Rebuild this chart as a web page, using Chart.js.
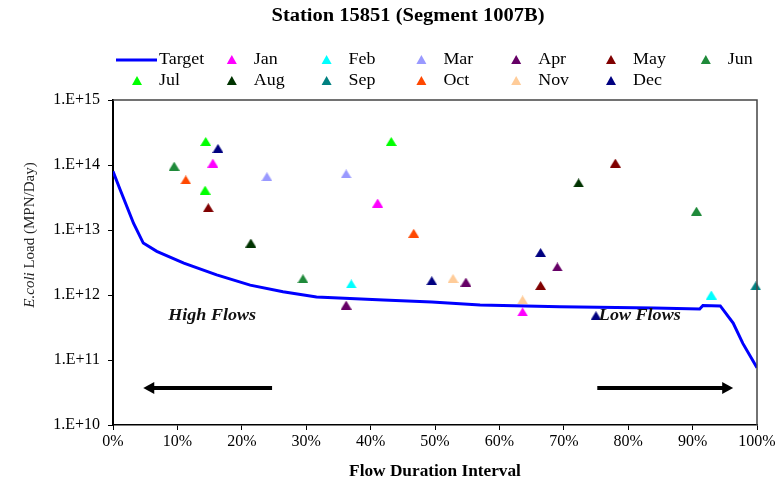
<!DOCTYPE html>
<html>
<head>
<meta charset="utf-8">
<script src="https://cdn.jsdelivr.net/npm/chart.js@4/dist/chart.umd.min.js"></script>
<style>
  html, body { margin: 0; padding: 0; background: #fff; }
  #wrap { width: 779px; height: 485px; position: relative; }
</style>
</head>
<body>
<div id="wrap"><canvas id="loadChart" width="779" height="485"></canvas></div>
<script>
// load duration curve - station 15851
const months = ['Jan', 'Feb', 'Mar', 'Apr', 'May', 'Jun', 'Jul', 'Aug', 'Sep', 'Oct', 'Nov', 'Dec'];
const monthColors = ['#ff00ff', '#00ffff', '#9999ff', '#660066', '#800000', '#1f8a3a',
                     '#00ff00', '#003300', '#008080', '#ff4800', '#ffcc99', '#000080'];

// target curve (flow duration %, load MPN/day)
const targetPct  = [0, 1.1, 3.2, 4.7, 6.8, 11, 16.1, 21.3, 26.4, 31.6, 42, 49.5, 57, 69.4, 84, 91.1, 91.6, 94.3, 96.3, 97.8, 100];
const targetLoad = [8e13, 4.2e13, 1.26e13, 6.3e12, 4.7e12, 3.1e12, 2.04e12, 1.42e12, 1.12e12, 9.3e11, 8.4e11, 7.8e11,
                    7.0e11, 6.6e11, 6.3e11, 6.1e11, 6.9e11, 6.8e11, 3.7e11, 1.8e11, 7.6e10];

// samples
const sampleMonth = ['Jan', 'Jan', 'Jan', 'Feb', 'Feb', 'Mar', 'Mar', 'Apr', 'Apr', 'Apr', 'May', 'May', 'May',
                     'Jun', 'Jun', 'Jun', 'Jul', 'Jul', 'Jul', 'Aug', 'Aug', 'Sep', 'Oct', 'Oct', 'Nov', 'Nov',
                     'Dec', 'Dec', 'Dec', 'Dec'];
const samplePct  = [15.5, 41.1, 63.6, 37.0, 92.9, 23.9, 36.2, 36.2, 54.8, 69.0, 14.8, 66.4, 78.0,
                    9.5, 29.5, 90.6, 14.4, 14.3, 43.2, 21.4, 72.3, 99.8, 11.3, 46.7, 52.8, 63.6,
                    16.3, 49.5, 66.4, 75.0];
const sampleLoad = [1.07e14, 2.6e13, 5.5e11, 1.48e12, 1.0e12, 6.6e13, 7.3e13, 7.0e11, 1.58e12, 2.7e12, 2.2e13, 1.4e12, 1.07e14,
                    9.6e13, 1.78e12, 1.95e13, 2.3e14, 4.1e13, 2.3e14, 6.3e12, 5.3e13, 1.38e12, 5.9e13, 8.9e12, 1.8e12, 8.4e11,
                    1.8e14, 1.66e12, 4.5e12, 4.8e11];

const yTicks = [1e10, 1e11, 1e12, 1e13, 1e14, 1e15];
const xTicks = [0, 10, 20, 30, 40, 50, 60, 70, 80, 90, 100];

// flow regime notes
const regimeText = ['High Flows', 'Low Flows'];
const regimePct  = [15.4, 81.8];
const regimeLoad = [4.8e11, 4.8e11];
const arrowFrom  = [24.7, 75.2];
const arrowTo    = [4.7, 96.3];
const arrowLoad  = 3.7e10;

const serif = '"Liberation Serif", "Times New Roman", serif';

// flat "hat" triangle marker, like the old excel one
function triMarker(color, w, h) {
    const c = document.createElement('canvas');
    c.width = w;
    c.height = h;
    const g = c.getContext('2d');
    g.fillStyle = color;
    g.beginPath();
    g.moveTo(w / 2, 0);
    g.lineTo(w, h);
    g.lineTo(0, h);
    g.closePath();
    g.fill();
    return c;
}

const datasets = [{
    label: 'Target',
    type: 'line',
    data: targetPct.map((p, i) => ({ x: p, y: targetLoad[i] })),
    borderColor: '#0000ff',
    backgroundColor: '#0000ff',
    borderWidth: 3,
    pointRadius: 0,
    tension: 0,
    order: 2
}];
months.forEach((m, k) => {
    const pts = [];
    sampleMonth.forEach((sm, i) => {
        if (sm === m) pts.push({ x: samplePct[i], y: sampleLoad[i] });
    });
    datasets.push({
        label: m,
        type: 'scatter',
        data: pts,
        pointStyle: triMarker(monthColors[k], 11, 9),
        pointRadius: 6,
        borderColor: monthColors[k],
        backgroundColor: monthColors[k],
        clip: false,
        order: 1
    });
});

function wideText(ctx, txt, x, y, stretch) {
    ctx.save();
    ctx.translate(x, y);
    ctx.scale(stretch, 1);
    ctx.fillText(txt, 0, 0);
    ctx.restore();
}

const decor = {
    id: 'decor',
    afterDraw(chart) {
        const ctx = chart.ctx;
        const xs = chart.scales.x, ys = chart.scales.y;
        const area = chart.chartArea;
        ctx.save();

        // top / right frame
        ctx.strokeStyle = '#444';
        ctx.lineWidth = 1.5;
        ctx.beginPath();
        ctx.moveTo(area.left, area.top);
        ctx.lineTo(area.right, area.top);
        ctx.lineTo(area.right, area.bottom);
        ctx.stroke();

        // title
        ctx.fillStyle = '#000';
        ctx.font = 'bold 18px ' + serif;
        ctx.textAlign = 'center';
        ctx.textBaseline = 'middle';
        wideText(ctx, 'Station 15851 (Segment 1007B)', 408, 16, 1.14);

        // x title
        ctx.font = 'bold 16px ' + serif;
        wideText(ctx, 'Flow Duration Interval', (area.left + area.right) / 2, 472, 1.08);

        // legend
        ctx.font = '16px ' + serif;
        ctx.textAlign = 'left';
        const names = ['Target'].concat(months);
        names.forEach((n, i) => {
            const col = i % 7, row = Math.floor(i / 7);
            const cx = 137 + col * 94.8;
            const cy = 60 + row * 21;
            if (i === 0) {
                ctx.strokeStyle = '#0000ff';
                ctx.lineWidth = 3;
                ctx.beginPath();
                ctx.moveTo(116, cy);
                ctx.lineTo(157, cy);
                ctx.stroke();
            } else {
                ctx.fillStyle = monthColors[i - 1];
                ctx.beginPath();
                ctx.moveTo(cx, cy - 5);
                ctx.lineTo(cx + 5, cy + 4);
                ctx.lineTo(cx - 5, cy + 4);
                ctx.closePath();
                ctx.fill();
            }
            ctx.fillStyle = '#000';
            wideText(ctx, n, cx + 22, cy, 1.12);
        });

        // y title with italic E.coli
        ctx.save();
        ctx.translate(30, 235);
        ctx.rotate(-Math.PI / 2);
        ctx.fillStyle = '#222';
        ctx.textBaseline = 'middle';
        ctx.font = 'italic 15px ' + serif;
        const p1 = 'E.coli';
        const w1 = ctx.measureText(p1).width;
        ctx.font = '15px ' + serif;
        const p2 = ' Load (MPN/Day)';
        const w2 = ctx.measureText(p2).width;
        const sx = -(w1 + w2) / 2;
        ctx.textAlign = 'left';
        ctx.font = 'italic 15px ' + serif;
        ctx.fillText(p1, sx, 0);
        ctx.font = '15px ' + serif;
        ctx.fillText(p2, sx + w1, 0);
        ctx.restore();

        // regime labels
        ctx.font = 'italic bold 16px ' + serif;
        ctx.fillStyle = '#111';
        ctx.textAlign = 'center';
        regimeText.forEach((t, i) => {
            wideText(ctx, t, xs.getPixelForValue(regimePct[i]), ys.getPixelForValue(regimeLoad[i]), 1.13);
        });

        // arrows
        ctx.strokeStyle = '#000';
        ctx.fillStyle = '#000';
        ctx.lineWidth = 4;
        const ay = ys.getPixelForValue(arrowLoad);
        arrowFrom.forEach((f, i) => {
            const x0 = xs.getPixelForValue(f), x1 = xs.getPixelForValue(arrowTo[i]);
            const dir = Math.sign(x1 - x0);
            ctx.beginPath();
            ctx.moveTo(x0, ay);
            ctx.lineTo(x1 - dir * 8, ay);
            ctx.stroke();
            ctx.beginPath();
            ctx.moveTo(x1, ay);
            ctx.lineTo(x1 - dir * 11, ay - 6);
            ctx.lineTo(x1 - dir * 11, ay + 6);
            ctx.closePath();
            ctx.fill();
        });
        ctx.restore();
    }
};

new Chart(document.getElementById('loadChart').getContext('2d'), {
    data: { datasets: datasets },
    options: {
        responsive: false,
        animation: false,
        layout: { padding: { top: 100, right: 22, left: 0, bottom: 0 } },
        plugins: {
            legend: { display: false },
            title: { display: false },
            tooltip: { enabled: false }
        },
        scales: {
            x: {
                type: 'linear',
                min: 0,
                max: 100,
                afterFit: s => { s.height = 60; },
                afterBuildTicks: s => { s.ticks = xTicks.map(v => ({ value: v })); },
                grid: { drawOnChartArea: false, drawTicks: true, tickLength: 5, color: '#000' },
                border: { display: true, color: '#000', width: 1.5 },
                ticks: {
                    color: '#000',
                    font: { family: serif, size: 16 },
                    padding: 2,
                    maxRotation: 0,
                    callback: v => v + '%'
                }
            },
            y: {
                type: 'logarithmic',
                min: 1e10,
                max: 1e15,
                afterFit: s => { s.width = 113; },
                afterBuildTicks: s => { s.ticks = yTicks.map(v => ({ value: v })); },
                grid: { drawOnChartArea: false, drawTicks: true, tickLength: 5, color: '#000' },
                border: { display: true, color: '#000', width: 2 },
                ticks: {
                    color: '#000',
                    font: { family: serif, size: 16 },
                    padding: 8,
                    callback: v => '1.E+' + Math.round(Math.log10(v))
                }
            }
        }
    },
    plugins: [decor]
});
</script>
</body>
</html>
